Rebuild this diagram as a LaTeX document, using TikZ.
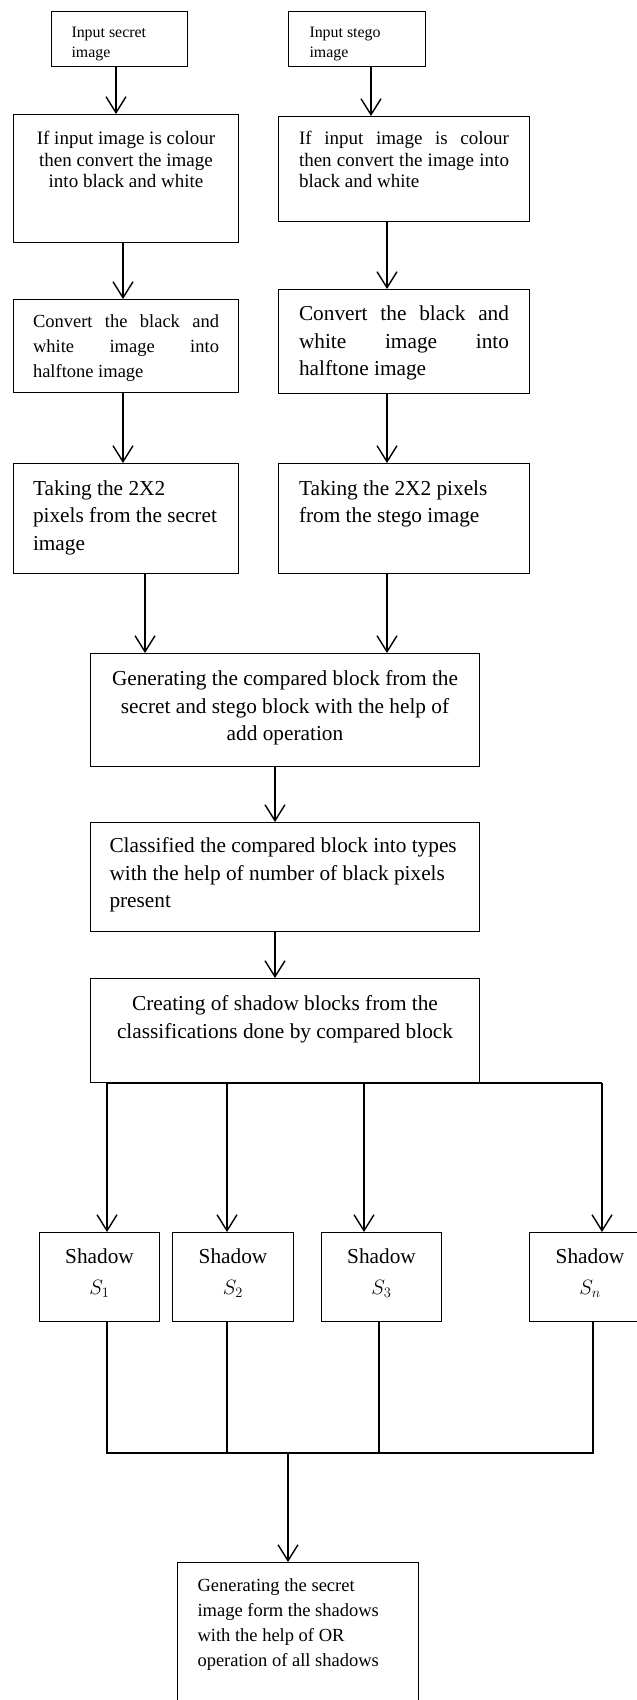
\documentclass[tikz,border=0pt]{standalone}
\usepackage{fontspec}
\setmainfont{Liberation Serif}
\usetikzlibrary{arrows.meta}
% box text: width, height, gap above the first line, contents
\newcommand{\blocktext}[4]{\parbox[c][#2][t]{#1}{\vspace*{#3}#4}}

\begin{document}
\begin{tikzpicture}[x=1pt, y=-1pt,
	blk/.style={draw, line width=1pt, anchor=north west, inner ysep=0pt},
	inputtxt/.style={font=\fontsize{15.9}{20}\selectfont},
	midtxt/.style={font=\fontsize{19}{21.5}\selectfont},
	halftxt/.style={font=\fontsize{18.5}{25}\selectfont},
	bodytxt/.style={font=\fontsize{21.3}{27.6}\selectfont},
	shadowtxt/.style={font=\fontsize{21.3}{31}\selectfont},
	arr/.style={-{Straight Barb[length=16pt, width=20pt]}, line width=1.4pt},
	link/.style={line width=1.3pt}]
	\useasboundingbox (0,0) rectangle (637,1700);
	\clip (0,0) rectangle (637,1700);

	% the two input columns
	\node[blk, inner xsep=20pt, inputtxt] (secretin) at (51,11) {\blocktext{96pt}{55pt}{15.5pt}{\raggedright Input secret\\image}};
	\node[blk, inner xsep=21pt, inputtxt] (stegoin) at (288,11) {\blocktext{95pt}{55pt}{15.5pt}{\raggedright Input stego\\image}};
	\node[blk, inner xsep=10pt, midtxt] (gray1) at (13,114) {\blocktext{205pt}{128pt}{17pt}{\centering If input image is colour\\then convert the image\\into black and white}};
	\node[blk, inner xsep=20.5pt, midtxt] (gray2) at (278,116) {\blocktext{210pt}{105pt}{15pt}{If input image is colour\linebreak then convert the image into\linebreak black and white}};
	\node[blk, inner xsep=19.5pt, halftxt] (half1) at (13,299) {\blocktext{186pt}{93pt}{15pt}{Convert the black and\linebreak white image into\linebreak halftone image}};
	\node[blk, inner xsep=20.5pt, bodytxt] (half2) at (278,289) {\blocktext{210pt}{104pt}{16.5pt}{Convert the black and\linebreak white image into\linebreak halftone image}};
	\node[blk, inner xsep=19.5pt, bodytxt] (pix1) at (13,463) {\blocktext{186pt}{110pt}{17pt}{\raggedright Taking the 2X2\\pixels from the secret\\image}};
	\node[blk, inner xsep=20.5pt, bodytxt] (pix2) at (278,463) {\blocktext{210pt}{110pt}{17pt}{\raggedright Taking the 2X2 pixels\\from the stego image}};

	% joined steps
	\node[blk, inner xsep=10pt, bodytxt] (cmp) at (90,653) {\blocktext{369pt}{113pt}{17pt}{\centering Generating the compared block from the\\secret and stego block with the help of\\add operation}};
	\node[blk, inner xsep=19pt, bodytxt] (cls) at (90,822) {\blocktext{351pt}{109pt}{15pt}{\raggedright Classified the compared block into types\\with the help of number of black pixels\\present}};
	\node[blk, inner xsep=10pt, bodytxt] (shd) at (90,978) {\blocktext{369pt}{104pt}{17pt}{\centering Creating of shadow blocks from the\\classifications done by compared block}};

	% shadows
	\foreach \n/\x/\w/\i in {s1/39/110/1, s2/172/111/2, s3/321/110/3, sn/529/111/n}
		\node[blk, inner xsep=5pt, shadowtxt] (\n) at (\x,1232) {\blocktext{\w pt}{89pt}{16pt}{\centering Shadow\\$S_{\i}$}};

	\node[blk, inner xsep=20pt, halftxt] (rec) at (177,1562) {\blocktext{201pt}{200pt}{16pt}{\raggedright Generating the secret\\image form the shadows\\with the help of OR\\operation of all shadows}};

	% columns of the connectors
	\coordinate (k1) at (116,0);
	\coordinate (k2) at (371,0);
	\coordinate (k3) at (123,0);
	\coordinate (k4) at (387,0);
	\coordinate (k7) at (145,0);
	\coordinate (k9) at (275,0);
	\coordinate (t1) at (107,0);
	\coordinate (t2) at (227,0);
	\coordinate (t3) at (364,0);
	\coordinate (tn) at (602,0);
	\coordinate (b1) at (107,0);
	\coordinate (b2) at (227,0);
	\coordinate (b3) at (379,0);
	\coordinate (bn) at (593,0);
	\coordinate (join) at (288,1453);

	\draw[arr] (secretin.south -| k1) -- (gray1.north -| k1);
	\draw[arr] (stegoin.south -| k2) -- (gray2.north -| k2);
	\draw[arr] (gray1.south -| k3) -- (half1.north -| k3);
	\draw[arr] (gray2.south -| k4) -- (half2.north -| k4);
	\draw[arr] (half1.south -| k3) -- (pix1.north -| k3);
	\draw[arr] (half2.south -| k4) -- (pix2.north -| k4);
	\draw[arr] (pix1.south -| k7) -- (cmp.north -| k7);
	\draw[arr] (pix2.south -| k4) -- (cmp.north -| k4);
	\draw[arr] (cmp.south -| k9) -- (cls.north -| k9);
	\draw[arr] (cls.south -| k9) -- (shd.north -| k9);

	% fan out to the shadows
	\draw[link] (shd.south -| t1) -- (shd.south -| tn);
	\draw[arr] (shd.south -| t1) -- (s1.north -| t1);
	\draw[arr] (shd.south -| t2) -- (s2.north -| t2);
	\draw[arr] (shd.south -| t3) -- (s3.north -| t3);
	\draw[arr] (shd.south -| tn) -- (sn.north -| tn);

	% fan in
	\draw[link] (s1.south -| b1) -- (join -| b1) -- (join -| bn) -- (sn.south -| bn);
	\draw[link] (s2.south -| b2) -- (join -| b2);
	\draw[link] (s3.south -| b3) -- (join -| b3);
	\draw[arr] (join) -- (rec.north -| join);
\end{tikzpicture}
\end{document}
